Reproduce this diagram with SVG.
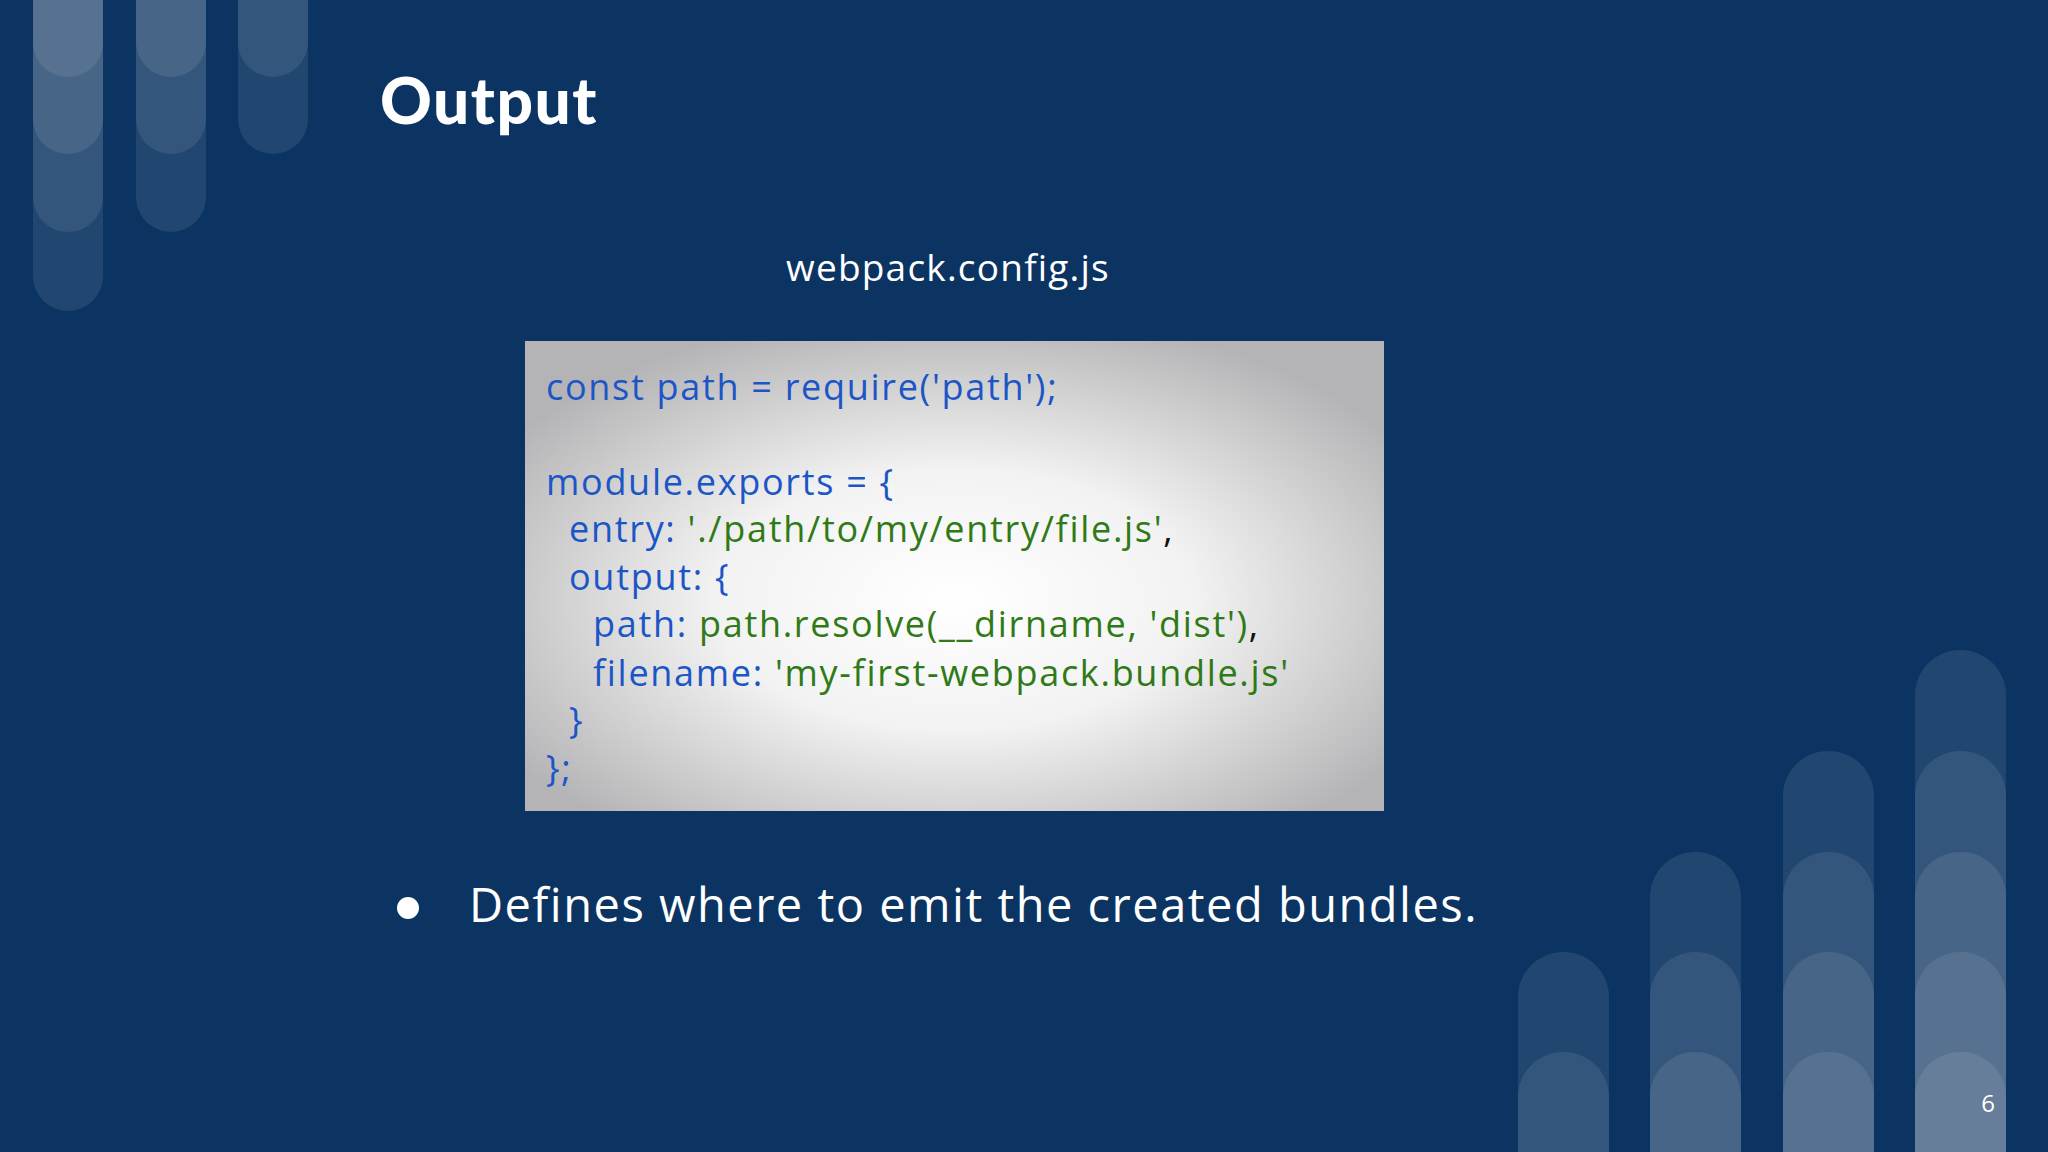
<svg xmlns="http://www.w3.org/2000/svg" width="2048" height="1152" viewBox="0 0 2048 1152">
<style>
.code{font-family:"Open Sans","DejaVu Sans",sans-serif;font-size:36px;letter-spacing:1.7px}
.b{fill:#1c55c6}.g{fill:#2f7a17}.k{fill:#111}
.pill{fill:#ffffff;fill-opacity:0.09}
</style>
<defs>
<radialGradient id="gr" cx="0.5" cy="0.55" r="0.62">
<stop offset="0" stop-color="#ffffff"/><stop offset="0.45" stop-color="#f2f2f2"/><stop offset="1" stop-color="#b4b4b6"/>
</radialGradient>
</defs>
<rect width="2048" height="1152" fill="#0b3462"/>
<g id="deco-tl">
<rect class="pill" x="33" y="-60" width="70" height="137" rx="35"/>
<rect class="pill" x="33" y="-60" width="70" height="214" rx="35"/>
<rect class="pill" x="33" y="-60" width="70" height="292" rx="35"/>
<rect class="pill" x="33" y="-60" width="70" height="371" rx="35"/>
<rect class="pill" x="136" y="-60" width="70" height="137" rx="35"/>
<rect class="pill" x="136" y="-60" width="70" height="214" rx="35"/>
<rect class="pill" x="136" y="-60" width="70" height="292" rx="35"/>
<rect class="pill" x="238" y="-60" width="70" height="137" rx="35"/>
<rect class="pill" x="238" y="-60" width="70" height="214" rx="35"/>
</g>
<g id="deco-br">
<rect class="pill" x="1518" y="952" width="91" height="300" rx="45"/>
<rect class="pill" x="1518" y="1052" width="91" height="200" rx="45"/>
<rect class="pill" x="1650" y="852" width="91" height="400" rx="45"/>
<rect class="pill" x="1650" y="952" width="91" height="300" rx="45"/>
<rect class="pill" x="1650" y="1052" width="91" height="200" rx="45"/>
<rect class="pill" x="1783" y="751" width="91" height="500" rx="45"/>
<rect class="pill" x="1783" y="852" width="91" height="400" rx="45"/>
<rect class="pill" x="1783" y="952" width="91" height="300" rx="45"/>
<rect class="pill" x="1783" y="1052" width="91" height="200" rx="45"/>
<rect class="pill" x="1915" y="650" width="91" height="600" rx="45"/>
<rect class="pill" x="1915" y="751" width="91" height="500" rx="45"/>
<rect class="pill" x="1915" y="852" width="91" height="400" rx="45"/>
<rect class="pill" x="1915" y="952" width="91" height="300" rx="45"/>
<rect class="pill" x="1915" y="1052" width="91" height="200" rx="45"/>
</g>
<g id="title"><text x="380" y="124" font-family="Lato,'Open Sans',sans-serif" font-weight="900" font-size="64" letter-spacing="1.5" fill="#fff">Output</text></g>
<g id="filename"><text x="948" y="281" text-anchor="middle" font-family="'Open Sans',sans-serif" font-size="37" letter-spacing="1.2" fill="#fff">webpack.config.js</text></g>
<g id="codebox">
<rect x="525" y="341" width="859" height="470" fill="url(#gr)"/>
<text class="code" x="546" y="400"><tspan class="b">const path = require('path');</tspan></text>
<text class="code" x="546" y="495"><tspan class="b">module.exports = {</tspan></text>
<text class="code" x="569" y="542"><tspan class="b">entry: </tspan><tspan class="g">'./path/to/my/entry/file.js'</tspan><tspan class="k">,</tspan></text>
<text class="code" x="569" y="590"><tspan class="b">output: {</tspan></text>
<text class="code" x="593" y="637"><tspan class="b">path: </tspan><tspan class="g">path.resolve(__dirname, 'dist')</tspan><tspan class="k">,</tspan></text>
<text class="code" x="593" y="686"><tspan class="b">filename: </tspan><tspan class="g">'my-first-webpack.bundle.js'</tspan></text>
<text class="code" x="569" y="733"><tspan class="b">}</tspan></text>
<text class="code" x="546" y="781"><tspan class="b">};</tspan></text>
</g>
<g id="bullet">
<circle cx="408" cy="908" r="11" fill="#fff"/>
<text x="469" y="922" font-family="'Open Sans',sans-serif" font-size="47" letter-spacing="1.5" fill="#fff">Defines where to emit the created bundles.</text>
</g>
<g id="pagenum"><text x="1988" y="1112" text-anchor="middle" font-family="'Open Sans',sans-serif" font-size="24" fill="#fff">6</text></g>
</svg>
